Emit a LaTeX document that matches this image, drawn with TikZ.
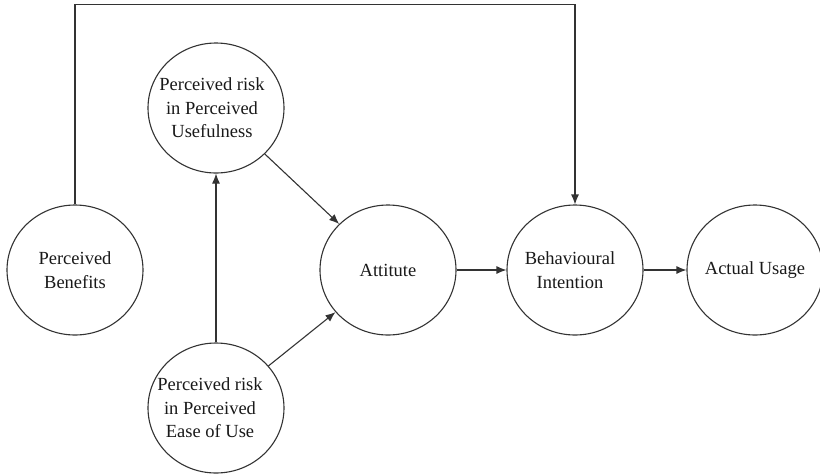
\documentclass[tikz,border=0pt]{standalone}
\usepackage{fontspec}
\setmainfont{Liberation Serif}
\usetikzlibrary{shapes.geometric,arrows.meta}
\definecolor{ink}{HTML}{333333}
\begin{document}
\begin{tikzpicture}[x=1pt,y=-1pt,
  construct/.style={ellipse,draw=ink,line width=1.1pt,minimum width=136pt,minimum height=130pt,inner sep=0pt},
  txt/.style={align=center,font=\fontsize{18.5}{23.5}\selectfont,text=black!90,inner sep=0pt},
  arr/.style={draw=ink,line width=1.1pt,-{Latex[length=10pt,width=8pt]}}]
\useasboundingbox (0,0) rectangle (820,475);

\node[construct,label={[txt]center:Perceived\\Benefits}] (ben) at (75,270) {};
\node[construct,label={[txt,xshift=-4pt]center:Perceived risk\\in Perceived\\Usefulness}] (use) at (216,108) {};
\node[construct,label={[txt,xshift=-6pt]center:Perceived risk\\in Perceived\\Ease of Use}] (ease) at (216,408) {};
\node[construct,label={[txt]center:Attitute}] (att) at (388,270) {};
\node[construct,label={[txt,xshift=-5pt]center:Behavioural\\Intention}] (bi) at (575,270) {};
\node[construct,label={[txt]center:Actual Usage}] (au) at (755,270) {};

\coordinate (top) at (0,4.5);

% direct influence of benefits on intention, routed over the top
\draw[arr] (ben.north) -- (ben.north |- top) -- (bi.north |- top) -- (bi.north);
\draw[arr] (ease.north) -- (use.south);
\draw[arr] (use) -- (att);
\draw[arr] (ease) -- (att);
\draw[arr] (att) -- (bi);
\draw[arr] (bi) -- (au);
\end{tikzpicture}
\end{document}
